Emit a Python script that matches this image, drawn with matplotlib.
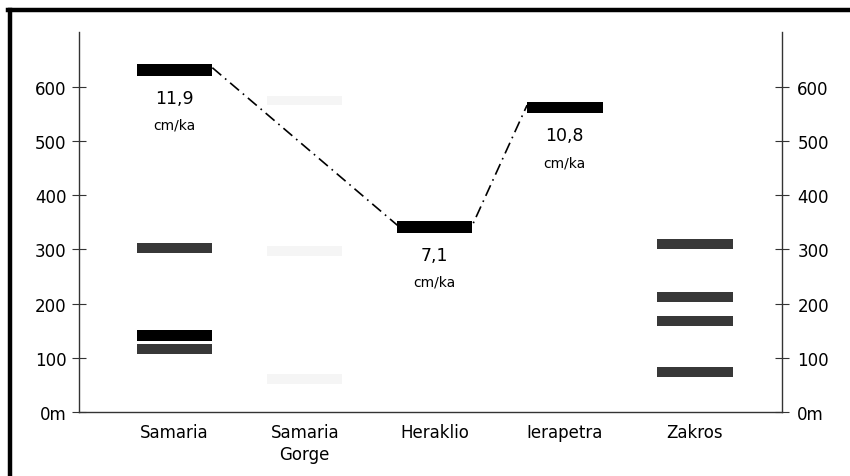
import numpy as np
import matplotlib.pyplot as plt
from matplotlib.lines import Line2D

# Sites along the x axis
sites = ["Samaria", "Samaria\nGorge", "Heraklio", "Ierapetra", "Zakros"]

# Terrace levels (m): (site index, elevation)
black_site = [0, 0, 2, 3]
black_elev = [631, 141, 341, 562]
grey_site = [0, 0, 4, 4, 4, 4]
grey_elev = [303, 116, 310, 212, 168, 74]
faint_site = [1, 1, 1]
faint_elev = [574, 297, 61]

# Uplift rates shown under the dated terraces
rate_site = [0, 2, 3]
rate_elev = [631, 341, 562]
rate_text = ["11,9", "7,1", "10,8"]

yticks = [0, 100, 200, 300, 400, 500, 600]
ylabels = ["0m", "100", "200", "300", "400", "500", "600"]

bar_w = 0.58
bar_h = 21

fig = plt.figure(figsize=(8.5, 4.77), dpi=100)
ax = fig.add_axes([0.093, 0.134, 0.827, 0.797])

ax.barh(faint_elev, bar_w, height=bar_h - 4, left=np.array(faint_site) - bar_w / 2,
        color="#f5f5f5", edgecolor="none")
ax.barh(grey_elev, bar_w, height=bar_h - 2, left=np.array(grey_site) - bar_w / 2,
        color="#383838", edgecolor="none")
ax.barh(black_elev, bar_w, height=bar_h, left=np.array(black_site) - bar_w / 2,
        color="black", edgecolor="none")

# dash-dot line linking the dated terraces, bar end to bar end
lx, ly = [], []
for i, (s, e) in enumerate(zip(rate_site, rate_elev)):
    if i > 0:
        lx.append(s - bar_w / 2)
        ly.append(e + 4)
    if i < len(rate_site) - 1:
        lx.append(s + bar_w / 2)
        ly.append(e + 4)
ax.plot(lx, ly, color="black", lw=1.2, linestyle=(0, (7, 3, 1, 3)))

for s, e, t in zip(rate_site, rate_elev, rate_text):
    ax.text(s, e - 52, t, ha="center", va="center", fontsize=12.5)
    ax.text(s, e - 101, "cm/ka", ha="center", va="center", fontsize=10)

ax.set_xlim(-0.735, 4.67)
ax.set_ylim(0, 701)
ax.set_xticks(range(len(sites)))
ax.set_xticklabels(sites, fontsize=12, linespacing=1.25)
ax.tick_params(axis="x", length=0, pad=8)
ax.set_yticks(yticks)
ax.set_yticklabels(ylabels, fontsize=12)
ax.tick_params(axis="y", direction="inout", length=10, width=0.8, color="#333333", pad=4)

ax2 = ax.twinx()
ax2.set_ylim(ax.get_ylim())
ax2.set_yticks(yticks)
ax2.set_yticklabels(ylabels, fontsize=12)
ax2.tick_params(axis="y", direction="inout", length=10, width=0.8, color="#333333", pad=6)

for a in (ax, ax2):
    a.spines["top"].set_visible(False)
    for sp in ("left", "right", "bottom"):
        a.spines[sp].set_color("#333333")
        a.spines[sp].set_linewidth(1.0)
ax2.spines["left"].set_visible(False)
ax2.spines["bottom"].set_visible(False)
ax.spines["right"].set_visible(False)

# thick frame on left and top of the figure
fig.add_artist(Line2D([0.0118, 0.0118], [0.0, 0.977], color="black", lw=3.2))
fig.add_artist(Line2D([0.0095, 1.0], [0.977, 0.977], color="black", lw=3.2))

fig.savefig("out.png", dpi=100)
